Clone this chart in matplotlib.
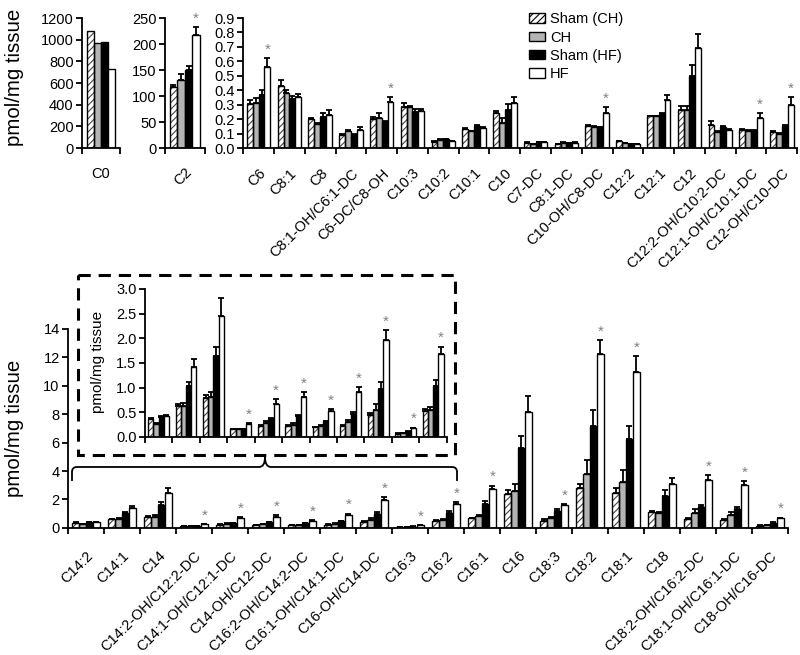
import numpy as np
import matplotlib
matplotlib.use('Agg')
import matplotlib.pyplot as plt
import matplotlib.patches as mpatches
from matplotlib.path import Path
from matplotlib.ticker import FormatStrFormatter, FixedLocator

plt.rcParams['font.family'] = ['Liberation Sans', 'DejaVu Sans']
plt.rcParams['hatch.linewidth'] = 0.8

groups = ['Sham (CH)', 'CH', 'Sham (HF)', 'HF']

# C0 and C2 panels
c0_vals = [1076, 968, 983, 730]
c2_vals = [118, 130, 150, 218]
c2_errs = [4, 13, 8, 15]

# short / medium chain panel
mid_cats = ['C6', 'C8:1', 'C8', 'C8:1-OH/C6:1-DC', 'C6-DC/C8-OH', 'C10:3', 'C10:2',
            'C10:1', 'C10', 'C7-DC', 'C8:1-DC', 'C10-OH/C8-DC', 'C12:2', 'C12:1',
            'C12', 'C12:2-OH/C10:2-DC', 'C12:1-OH/C10:1-DC', 'C12-OH/C10-DC']
mid_sham_ch = [0.305, 0.426, 0.20, 0.093, 0.20, 0.285, 0.045, 0.134, 0.244, 0.035, 0.025, 0.152, 0.046, 0.22, 0.26, 0.16, 0.123, 0.109]
mid_ch = [0.314, 0.38, 0.166, 0.12, 0.21, 0.285, 0.057, 0.116, 0.175, 0.028, 0.036, 0.146, 0.035, 0.22, 0.26, 0.11, 0.12, 0.10]
mid_sham_hf = [0.37, 0.337, 0.216, 0.089, 0.18, 0.248, 0.061, 0.153, 0.262, 0.04, 0.033, 0.143, 0.025, 0.235, 0.50, 0.145, 0.12, 0.155]
mid_hf = [0.56, 0.35, 0.232, 0.125, 0.316, 0.257, 0.046, 0.137, 0.31, 0.04, 0.036, 0.245, 0.025, 0.33, 0.69, 0.125, 0.205, 0.295]
mid_sham_ch_err = [0.025, 0.045, 0.005, 0.005, 0.016, 0.025, 0.004, 0.008, 0.012, 0.004, 0.003, 0.008, 0.004, 0.005, 0.03, 0.03, 0.01, 0.01]
mid_ch_err = [0.035, 0.02, 0.005, 0.005, 0.03, 0.005, 0.003, 0.005, 0.035, 0.003, 0.003, 0.005, 0.003, 0.005, 0.03, 0.005, 0.008, 0.005]
mid_sham_hf_err = [0.03, 0.02, 0.028, 0.005, 0.005, 0.02, 0.004, 0.008, 0.04, 0.003, 0.003, 0.005, 0.003, 0.008, 0.075, 0.01, 0.005, 0.005]
mid_hf_err = [0.06, 0.025, 0.03, 0.02, 0.035, 0.015, 0.003, 0.01, 0.045, 0.003, 0.003, 0.04, 0.003, 0.04, 0.1, 0.01, 0.035, 0.06]
mid_stars = [0, 4, 11, 16, 17]

# long chain panel (first 11 also shown in the inset)
long_cats = ['C14:2', 'C14:1', 'C14', 'C14:2-OH/C12:2-DC', 'C14:1-OH/C12:1-DC', 'C14-OH/C12-DC',
             'C16:2-OH/C14:2-DC', 'C16:1-OH/C14:1-DC', 'C16-OH/C14-DC', 'C16:3', 'C16:2',
             'C16:1', 'C16', 'C18:3', 'C18:2', 'C18:1', 'C18', 'C18:2-OH/C16:2-DC',
             'C18:1-OH/C16:1-DC', 'C18-OH/C16-DC']
long_sham_ch = [0.36, 0.62, 0.78, 0.15, 0.23, 0.22, 0.20, 0.23, 0.45, 0.06, 0.52, 0.68, 2.37, 0.52, 2.79, 2.49, 1.13, 0.63, 0.59, 0.16]
long_ch = [0.26, 0.62, 0.80, 0.15, 0.28, 0.25, 0.22, 0.30, 0.55, 0.07, 0.55, 0.82, 2.63, 0.68, 3.76, 3.24, 1.08, 1.03, 0.89, 0.20]
long_sham_hf = [0.40, 1.03, 1.63, 0.15, 0.37, 0.43, 0.32, 0.47, 0.98, 0.10, 1.04, 1.71, 5.61, 1.20, 7.20, 6.27, 2.25, 1.50, 1.34, 0.38]
long_hf = [0.43, 1.42, 2.46, 0.26, 0.67, 0.80, 0.52, 0.91, 1.96, 0.18, 1.68, 2.72, 8.15, 1.62, 12.2, 10.96, 3.08, 3.36, 3.03, 0.68]
long_sham_ch_err = [0.03, 0.04, 0.06, 0.01, 0.02, 0.02, 0.01, 0.02, 0.04, 0.01, 0.04, 0.05, 0.31, 0.08, 0.33, 0.30, 0.05, 0.05, 0.05, 0.03]
long_ch_err = [0.02, 0.06, 0.10, 0.01, 0.04, 0.03, 0.02, 0.05, 0.12, 0.01, 0.06, 0.10, 0.47, 0.10, 1.0, 0.8, 0.05, 0.28, 0.26, 0.03]
long_sham_hf_err = [0.02, 0.08, 0.20, 0.01, 0.01, 0.01, 0.01, 0.04, 0.13, 0.01, 0.12, 0.20, 0.87, 0.10, 1.1, 0.93, 0.40, 0.14, 0.16, 0.03]
long_hf_err = [0.01, 0.15, 0.36, 0.02, 0.09, 0.11, 0.05, 0.10, 0.20, 0.01, 0.15, 0.26, 1.1, 0.05, 1.0, 1.1, 0.46, 0.34, 0.26, 0.05]
long_stars = [3, 4, 5, 6, 7, 8, 9, 10, 11, 13, 14, 15, 17, 18, 19]
n_inset = 11

face = ['white', '#b4b4b4', 'black', 'white']
hatches = ['/////', None, None, None]
W = 0.19


def draw_bars(ax, vals, errs=None, stars=(), star_fs=11):
    n = len(vals[0])
    x = np.arange(n)
    offs = (np.arange(4) - 1.5) * W
    for k in range(4):
        v = np.array(vals[k])
        if hatches[k]:
            ax.bar(x + offs[k], v, W, color='white', edgecolor='#444444', hatch=hatches[k], linewidth=0, zorder=2)
            ax.bar(x + offs[k], v, W, fill=False, edgecolor='black', linewidth=1, zorder=3)
        else:
            ax.bar(x + offs[k], v, W, color=face[k], edgecolor='black', linewidth=1, zorder=2)
        if errs is not None:
            e = np.array(errs[k])
            ax.errorbar(x + offs[k], v, yerr=[np.zeros(n), e], fmt='none', ecolor='black',
                        elinewidth=1.3, capsize=2.5, capthick=1.3, zorder=4)
    for i in stars:
        top = vals[3][i] + (errs[3][i] if errs is not None else 0)
        ax.annotate('*', (i + offs[3], top), xytext=(0, 1), textcoords='offset points',
                    ha='center', va='bottom', color='#808080', fontsize=star_fs)
    ax.set_xlim(-0.5, n - 0.5)
    ax.spines['top'].set_visible(False)
    ax.spines['right'].set_visible(False)
    for s in ['left', 'bottom']:
        ax.spines[s].set_linewidth(1.3)
    ax.xaxis.set_minor_locator(FixedLocator(np.arange(n + 1) - 0.5))
    ax.tick_params(axis='x', which='major', length=0, pad=3)
    ax.tick_params(axis='x', which='minor', length=4, width=1.3, direction='out')
    ax.tick_params(axis='y', length=4, width=1.3, direction='out', labelsize=10.5, pad=2)


def set_cats(ax, cats, rot=45):
    ax.set_xticks(np.arange(len(cats)))
    if rot:
        ax.set_xticklabels(cats, rotation=rot, ha='right', rotation_mode='anchor', fontsize=10.5)
    else:
        ax.set_xticklabels(cats, fontsize=10.5)


fig = plt.figure(figsize=(8, 6.55), dpi=100)

# top row
ax0 = fig.add_axes([0.1025, 0.774, 0.0475, 0.1985])
draw_bars(ax0, [[c0_vals[k]] for k in range(4)])
ax0.set_ylim(0, 1200)
ax0.set_yticks(np.arange(0, 1201, 200))
set_cats(ax0, ['C0'], rot=0)
ax0.tick_params(axis='x', which='major', pad=14)

ax1 = fig.add_axes([0.206, 0.774, 0.05, 0.1985])
draw_bars(ax1, [[c2_vals[k]] for k in range(4)], [[c2_errs[k]] for k in range(4)], stars=[0])
ax1.set_ylim(0, 250)
ax1.set_yticks(np.arange(0, 251, 50))
set_cats(ax1, ['C2'])
ax1.tick_params(axis='x', which='major', pad=12)

ax2 = fig.add_axes([0.304, 0.774, 0.6925, 0.1985])
draw_bars(ax2, [mid_sham_ch, mid_ch, mid_sham_hf, mid_hf],
          [mid_sham_ch_err, mid_ch_err, mid_sham_hf_err, mid_hf_err], stars=mid_stars)
ax2.set_ylim(0, 0.9)
ax2.set_yticks(np.arange(0, 0.91, 0.1))
ax2.yaxis.set_major_formatter(FormatStrFormatter('%.1f'))
set_cats(ax2, mid_cats)
ax2.tick_params(axis='x', which='major', pad=13)

handles = [mpatches.Patch(facecolor=face[k], edgecolor='black', hatch=hatches[k], linewidth=1) for k in range(4)]
ax2.legend(handles, groups, loc='upper left', bbox_to_anchor=(0.505, 1.09), frameon=False,
           fontsize=10.5, handlelength=1.1, handleheight=0.6, handletextpad=0.35, labelspacing=0.3,
           borderaxespad=0)

fig.text(14 / 800, 1 - 77 / 655, 'pmol/mg tissue', rotation=90, ha='center', va='center', fontsize=14.7)

# bottom panel
ax3 = fig.add_axes([0.085, 0.194, 0.9, 0.304])
long_vals = [long_sham_ch, long_ch, long_sham_hf, long_hf]
long_errs = [long_sham_ch_err, long_ch_err, long_sham_hf_err, long_hf_err]
draw_bars(ax3, long_vals, long_errs, stars=long_stars)
ax3.set_ylim(0, 14)
ax3.set_yticks(np.arange(0, 15, 2))
set_cats(ax3, long_cats)
ax3.tick_params(axis='x', which='major', pad=15)
fig.text(14 / 800, 1 - 428 / 655, 'pmol/mg tissue', rotation=90, ha='center', va='center', fontsize=14.7)

# inset
ax4 = fig.add_axes([0.181, 0.333, 0.3775, 0.226])
ax4.patch.set_alpha(0)
draw_bars(ax4, [v[:n_inset] for v in long_vals], [e[:n_inset] for e in long_errs],
          stars=[i for i in long_stars if i < n_inset])
ax4.set_ylim(0, 3)
ax4.set_yticks(np.arange(0, 3.01, 0.5))
ax4.yaxis.set_major_formatter(FormatStrFormatter('%.1f'))
ax4.set_xticks([])
fig.text(98 / 800, 1 - 362 / 655, 'pmol/mg tissue', rotation=90, ha='center', va='center', fontsize=11)

# dashed box and brace, in pixel coordinates of the figure
ov = fig.add_axes([0, 0, 1, 1])
ov.set_xlim(0, 800)
ov.set_ylim(655, 0)
ov.axis('off')
ov.patch.set_alpha(0)
ov.add_patch(mpatches.Rectangle((78, 275), 377, 180, fill=False, edgecolor='black',
                                linewidth=2.2, linestyle=(0, (4, 2.6))))
L, R, M, yb, yh, yt = 72, 457, 265, 481, 467, 457
verts = [(L, yb), (L, yh + 5), (L, yh), (L + 5, yh), (M - 6, yh), (M, yh), (M, yt),
         (M, yh), (M + 6, yh), (R - 5, yh), (R, yh), (R, yh + 5), (R, yb)]
codes = [Path.MOVETO, Path.LINETO, Path.CURVE3, Path.CURVE3, Path.LINETO, Path.CURVE3, Path.CURVE3,
         Path.CURVE3, Path.CURVE3, Path.LINETO, Path.CURVE3, Path.CURVE3, Path.LINETO]
ov.add_patch(mpatches.PathPatch(Path(verts, codes), fill=False, edgecolor='black', linewidth=1.3))

fig.savefig('out.png', dpi=100)
